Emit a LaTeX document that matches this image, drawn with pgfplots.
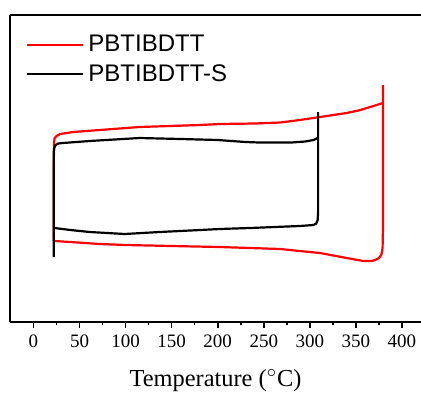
\documentclass[border=0pt]{standalone}
\usepackage{fontspec}
\setmainfont{Liberation Serif}
\newfontfamily\arial{Liberation Sans}
\usepackage{pgfplots}
\pgfplotsset{compat=1.18}
\begin{document}
\begin{tikzpicture}
\begin{axis}[
  scale only axis,
  width=205.5pt, height=153.5pt,
  xmin=-25.5, xmax=420.7,
  ymin=0, ymax=307,
  axis x line=box, axis y line=left,
  axis line style={-, line width=1pt},
  xtick={0,50,...,400},
  minor x tick num=1,
  xtick pos=bottom,
  tick align=outside,
  major tick length=3pt, minor tick length=1.5pt,
  every tick/.style={black, line width=0.8pt},
  ytick=\empty,
  /pgf/number format/assume math mode=true,
  tick label style={font=\fontsize{9.5}{10}\selectfont},
  xlabel={Temperature ($^{\circ}$C)},
  xlabel style={font=\fontsize{12.2}{14}\selectfont, yshift=-4pt},
  legend style={draw=none, fill=none, at={(axis description cs:0.039,0.950)}, anchor=north west,
    font=\arial\fontsize{12}{14}\selectfont, inner sep=0pt, row sep=1pt,
    /tikz/every even column/.append style={column sep=3pt}},
  legend image code/.code={\draw[#1, line width=1pt] (0pt,0pt) -- (28pt,0pt);},
  legend cell align=left,
]
\addplot[red, line width=1.1pt] coordinates {
(22,81) (22,150) (22.3,180) (23,184) (25,186) (29,188) (43,190) (115,195) (181,197) (202,198)
(240,198.5) (268,199.5) (289,202) (311,205) (340,209) (355,212) (376,218) (379.5,219) (379.5,237)
(379.5,218) (379.5,100) (379,75) (378.5,71) (377.5,67) (375,64) (371,62) (367,61) (358,61)
(340,64) (311,69) (289,71) (268,73) (202,75) (150,76) (100,77) (72,78) (40,80) (23,81)
};
\addlegendentry{PBTIBDTT}
\addplot[black, line width=1.1pt] coordinates {
(22,65) (22,120) (22,170) (22.5,174) (24,177) (27,178.5) (32,179) (61,181) (115,184) (160,183)
(200,182) (215,181) (230,180) (245,179.5) (280,179.5) (295,180.5) (304,182) (308.5,184) (309,184) (309,210)
(309,184) (309,150) (309,110) (308.5,102) (307,98.5) (304,97) (289,96) (235,94) (202,93)
(181,92) (137,90) (99,88) (61,90) (40,92) (23,94) (22,94)
};
\addlegendentry{PBTIBDTT-S}
\end{axis}
\pgfresetboundingbox
\useasboundingbox ([xshift=-5pt,yshift=-35pt]current axis.south west) rectangle ([yshift=7.5pt]current axis.north east);
\end{tikzpicture}
\end{document}
